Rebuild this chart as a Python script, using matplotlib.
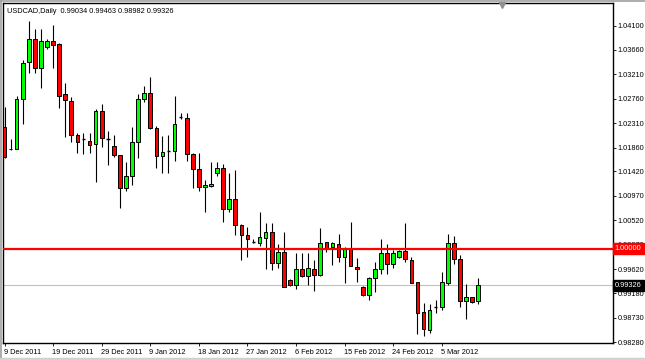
import matplotlib
matplotlib.use("Agg")
import matplotlib.pyplot as plt
import matplotlib.transforms as mtransforms
from matplotlib.lines import Line2D

plt.rcParams["font.family"] = ["Liberation Sans", "DejaVu Sans"]

# USDCAD daily candles, 9 Dec 2011 .. 8 Mar 2012
symbol = "USDCAD,Daily"
opens = [1.0224, 1.0184, 1.0183, 1.0275, 1.0343, 1.0386, 1.0332, 1.0371, 1.0382, 1.0376,
         1.0284, 1.0272, 1.0209, 1.0202, 1.0198, 1.0192, 1.0253, 1.0202, 1.0189, 1.0172,
         1.0112, 1.0134, 1.0196, 1.0275, 1.0286, 1.0222, 1.0170, 1.0180, 1.0180, 1.0242,
         1.0240, 1.0174, 1.0147, 1.0114, 1.0115, 1.0139, 1.0148, 1.0073, 1.0091, 1.0044,
         1.0025, 1.0012, 1.0011, 1.0020, 1.0031, 0.9974, 0.9994, 0.9943, 0.9933, 0.9963,
         0.9950, 0.9963, 0.9952, 1.0012, 1.0003, 1.0009, 0.9985, 1.0001, 0.9966, 0.9930,
         0.9915, 0.9946, 0.9963, 0.9992, 0.9972, 0.9985, 0.9996, 0.9979, 0.9939, 0.9884,
         0.9851, 0.9893, 0.9893, 0.9937, 1.0011, 0.9981, 0.9904, 0.9911, 0.99034]
highs = [1.0261, 1.0202, 1.0281, 1.0347, 1.0419, 1.0404, 1.0404, 1.0386, 1.0411, 1.0378,
         1.0305, 1.0279, 1.0213, 1.0213, 1.0213, 1.0257, 1.0266, 1.0217, 1.0209, 1.0172,
         1.0159, 1.0224, 1.0284, 1.0299, 1.0316, 1.0226, 1.0207, 1.0209, 1.0281, 1.0250,
         1.0250, 1.0176, 1.0176, 1.0126, 1.0159, 1.0159, 1.0156, 1.0139, 1.0145, 1.0046,
         1.0040, 1.0018, 1.0068, 1.0047, 1.0047, 1.0009, 1.0031, 0.9944, 0.9992, 0.9992,
         0.9992, 0.9979, 1.0038, 1.0012, 1.0013, 1.0027, 1.0003, 1.0049, 0.9983, 0.9932,
         0.9948, 0.9976, 1.0018, 1.0009, 0.9998, 0.9998, 1.0047, 0.9985, 0.9939, 0.9900,
         0.9898, 0.9906, 0.9957, 1.0027, 1.0023, 0.9988, 0.9935, 0.9911, 0.99463]
lows = [1.0167, 1.0182, 1.0183, 1.0229, 1.0323, 1.0323, 1.0296, 1.0367, 1.0332, 1.0259,
        1.0205, 1.0196, 1.0176, 1.0174, 1.0176, 1.0123, 1.0187, 1.0154, 1.0169, 1.0075,
        1.0106, 1.0117, 1.0167, 1.0270, 1.0221, 1.0148, 1.0139, 1.0139, 1.0161, 1.0238,
        1.0161, 1.0112, 1.0106, 1.0068, 1.0114, 1.0134, 1.0049, 1.0068, 1.0025, 0.9979,
        0.9985, 1.0011, 1.0005, 0.9963, 0.9961, 0.9965, 0.9929, 0.9932, 0.9926, 0.9948,
        0.9933, 0.9922, 0.9950, 0.9994, 0.9970, 0.9976, 0.9937, 0.9968, 0.9939, 0.9913,
        0.9906, 0.9921, 0.9954, 0.9954, 0.9965, 0.9983, 0.9976, 0.9937, 0.9843, 0.9840,
        0.9845, 0.9882, 0.9887, 0.9933, 0.9972, 0.9893, 0.9871, 0.9900, 0.98982]
closes = [1.0169, 1.0183, 1.0275, 1.0341, 1.0386, 1.0332, 1.0382, 1.0382, 1.0375, 1.0281,
          1.0273, 1.0209, 1.0196, 1.0202, 1.0191, 1.0253, 1.0204, 1.0202, 1.0172, 1.0112,
          1.0134, 1.0196, 1.0275, 1.0286, 1.0222, 1.0170, 1.0178, 1.0180, 1.0229, 1.0242,
          1.0174, 1.0147, 1.0114, 1.0117, 1.0119, 1.0148, 1.0073, 1.0091, 1.0044, 1.0025,
          1.0018, 1.0012, 1.0022, 1.0031, 0.9974, 0.9994, 0.9930, 0.9933, 0.9963, 0.9950,
          0.9965, 0.9952, 1.0011, 1.0001, 1.0011, 0.9985, 1.0001, 0.9968, 0.9963, 0.9915,
          0.9946, 0.9963, 0.9992, 0.9972, 0.9992, 0.9996, 0.9981, 0.9937, 0.9882, 0.9852,
          0.9887, 0.9893, 0.9939, 1.0011, 0.9981, 0.9904, 0.9911, 0.9902, 0.99326]

tick_bars = [0, 8, 16, 24, 32, 40, 48, 56, 64, 72]
tick_labels = ["9 Dec 2011", "19 Dec 2011", "29 Dec 2011", "9 Jan 2012", "18 Jan 2012",
               "27 Jan 2012", "6 Feb 2012", "15 Feb 2012", "24 Feb 2012", "5 Mar 2012"]
price_ticks = [1.04100, 1.03660, 1.03210, 1.02760, 1.02310, 1.01860, 1.01420,
               1.00970, 1.00520, 1.00070, 0.99620, 0.99180, 0.98730, 0.98280]
level = 1.00000

fs = 5.3
fig = plt.figure(figsize=(6.45, 3.59), dpi=100)
fig.patch.set_facecolor("white")
ax = fig.add_axes([3 / 645, 16 / 359, 610 / 645, 340 / 359])

# candles
for i in range(len(opens)):
    o, h, l, c = opens[i], highs[i], lows[i], closes[i]
    ax.vlines(i, l, h, color="black", lw=0.8, zorder=2)
    if abs(c - o) < 0.00005:
        ax.hlines(o, i - 0.3, i + 0.3, color="black", lw=1.0, zorder=3)
        continue
    if c > o:
        col = "#00ff00"
    else:
        col = "#ff0000"
    ax.bar(i, abs(c - o), width=0.6, bottom=min(o, c), color=col,
           edgecolor="black", linewidth=0.7, zorder=3)

# horizontal level and close line
ax.axhline(level, color="#ff0000", lw=1.6, zorder=4)
ax.axhline(closes[-1], color="#c0c0c0", lw=0.8, zorder=1)

ax.set_xlim(-0.25, 100.2)
ax.set_ylim(0.98267, 1.04517)

ax.yaxis.tick_right()
ax.set_yticks(price_ticks)
ax.set_yticklabels(["%.5f" % p for p in price_ticks])
ax.set_xticks(tick_bars)
ax.set_xticklabels(tick_labels, ha="left")
ax.tick_params(axis="both", labelsize=fs, length=2.5, width=0.6, pad=1, colors="black")
ax.tick_params(axis="x", pad=2)
for lab in ax.get_xticklabels():
    lab.set_transform(lab.get_transform() + mtransforms.ScaledTranslation(-1 / 100, 0, fig.dpi_scale_trans))

for sp in ax.spines.values():
    sp.set_linewidth(1.0)
    sp.set_color("black")

# price boxes on the right scale
trans = mtransforms.blended_transform_factory(ax.transAxes, ax.transData)
ax.text(1.003, level, "%.5f" % level, transform=trans, fontsize=fs, color="white",
        va="center", ha="left", clip_on=False, zorder=10,
        bbox=dict(boxstyle="square,pad=0.3", facecolor="#ff0000", edgecolor="#ff0000"))
ax.text(1.003, closes[-1], "%.5f" % closes[-1], transform=trans, fontsize=fs, color="white",
        va="center", ha="left", clip_on=False, zorder=10,
        bbox=dict(boxstyle="square,pad=0.3", facecolor="black", edgecolor="black"))

# header
ax.text(0.007, 0.985, "%s  %.5f %.5f %.5f %.5f" % (symbol, opens[-1], highs[-1], lows[-1], closes[-1]),
        transform=ax.transAxes, fontsize=fs, va="top", ha="left")

# chart shift marker
ax.plot([81.9], [1.0448], marker="v", color="#909090", markersize=4, clip_on=False, zorder=5)

# window frame
fig.add_artist(Line2D([0, 1], [0.998, 0.998], transform=fig.transFigure, color="#a0a0a0", lw=1.2))
fig.add_artist(Line2D([0.001, 0.001], [0, 1], transform=fig.transFigure, color="#a0a0a0", lw=1.2))
fig.add_artist(Line2D([0, 1], [0.004, 0.004], transform=fig.transFigure, color="#d0d0d0", lw=1.0))

fig.savefig("out.png", dpi=100, facecolor="white")
